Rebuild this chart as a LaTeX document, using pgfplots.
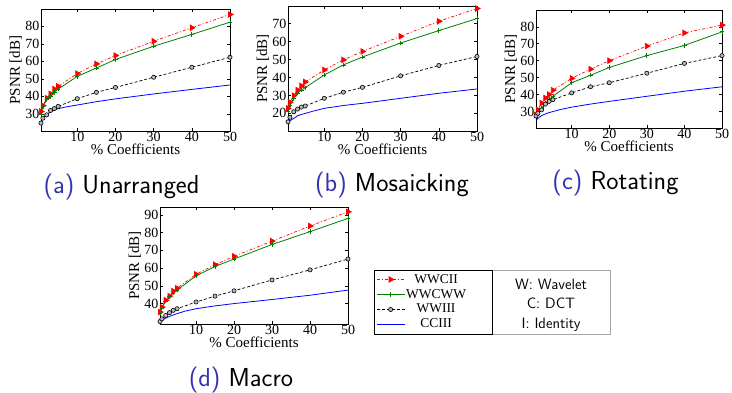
\documentclass[border=0pt]{standalone}
\usepackage{fontspec}
\setmainfont{Liberation Serif}
\usepackage{pgfplots}
\pgfplotsset{compat=1.18}
\definecolor{capblue}{RGB}{51,51,178}
\definecolor{mgreen}{RGB}{0,128,0}

\pgfplotsset{
  sub/.style={scale only axis, anchor=south west, xmin=0.5, xmax=50,
    xtick={10,20,30,40,50},
    tick align=inside, major tick length=3pt,
    tick style={black, line width=0.5pt},
    axis line style={line width=0.8pt},
    /pgf/number format/assume math mode=true,
    tick label style={font=\rmfamily\fontsize{14}{14}\selectfont},
    xticklabel style={anchor=base, yshift=-10.5pt, inner sep=0pt},
    yticklabel style={anchor=east, inner sep=0pt, xshift=-1.5pt},
    label style={font=\rmfamily\fontsize{15}{15}\selectfont},
    xlabel={\% Coefficients},
    xlabel style={at={(axis description cs:0.5,0)}, anchor=base, yshift=-24pt, inner sep=0pt},
    ylabel={PSNR [dB]},
    ylabel style={at={([xshift=-21pt]axis description cs:0,0.5)}, anchor=base, inner sep=0pt},
  },
  sred/.style={red, line width=0.7pt, dash pattern=on 3pt off 2pt on 1pt off 2pt,
    mark=triangle*, mark size=3.2pt, mark options={solid, rotate=-90, fill=red}},
  sgreen/.style={mgreen, line width=0.8pt, mark=+, mark size=2.2pt, mark options={solid}},
  sblack/.style={black, line width=0.7pt, dash pattern=on 3pt off 2pt,
    mark=*, mark size=2.1pt, mark options={solid, fill=gray!55, draw=black, line width=0.6pt}},
  sblue/.style={blue, line width=0.8pt, no marks},
}

\begin{document}
\begin{tikzpicture}
\useasboundingbox (0,0) rectangle (732pt,393pt);

% (a) Unarranged
\begin{axis}[sub, at={(41pt,262pt)}, width=189pt, height=122pt,
  ymin=20.3, ymax=89.8, ytick={30,40,50,60,70,80}]
\addplot[sred] coordinates {(0.5,31.4) (1,34.7) (2,39) (3,41.5) (4,44.2) (5,45.7) (10,53) (15,58.5) (20,63.3) (30,71.4) (40,79.1) (50,86.7)};
\addplot[sgreen] coordinates {(0.5,29.5) (1,34.3) (2,38.1) (3,40) (4,42.2) (5,44.2) (10,51.4) (15,56.2) (20,61) (30,68.6) (40,75.3) (50,82.3)};
\addplot[sblack] coordinates {(0.5,24.8) (1,27.6) (2,29.5) (3,32) (4,33.1) (5,34.3) (10,38.7) (15,42.3) (20,45.1) (30,50.9) (40,56.6) (50,62.3)};
\addplot[sblue] coordinates {(0.5,26) (1,28) (2,29.8) (3,31.2) (4,32.2) (5,33) (7,34) (10,35.1) (15,37) (20,38.6) (30,41.4) (40,44) (50,46.5)};
\end{axis}

% (b) Mosaicking
\begin{axis}[sub, at={(288pt,262pt)}, width=189pt, height=125pt,
  ymin=10.2, ymax=79.8, ytick={20,30,40,50,60,70}]
\addplot[sred] coordinates {(0.5,22.8) (1,26.2) (2,29.9) (3,33) (4,35.3) (5,37.5) (10,44.2) (15,49.8) (20,54.5) (30,62.9) (40,71.3) (50,78.4)};
\addplot[sgreen] coordinates {(0.5,21.3) (1,24.6) (2,28.4) (3,31.2) (4,33) (5,34.3) (10,41.4) (15,47) (20,51.4) (30,59.2) (40,66.1) (50,72.8)};
\addplot[sblack] coordinates {(0.5,15.3) (1,17.8) (2,20.9) (3,22.4) (4,23.5) (5,24.1) (10,28.4) (15,31.8) (20,34.5) (30,40.9) (40,46.7) (50,51.7)};
\addplot[sblue] coordinates {(0.5,14.4) (1,15.9) (2,17.2) (3,18.7) (4,19.4) (5,20) (7,21.2) (10,22.8) (15,24.4) (20,25.6) (30,28.4) (40,31.2) (50,33.6)};
\end{axis}

% (c) Rotating
\begin{axis}[sub, at={(536pt,265pt)}, width=186pt, height=118pt,
  ymin=20.3, ymax=89.9, ytick={30,40,50,60,70,80}]
\addplot[sred] coordinates {(0.5,28) (1,31) (2,35) (3,38) (4,40) (5,42.6) (10,49.6) (15,55) (20,60) (30,68.6) (40,76.4) (50,81)};
\addplot[sgreen] coordinates {(0.5,27.5) (1,29.5) (2,32) (3,35) (4,37) (5,39) (10,47) (15,51.4) (20,56) (30,63) (40,69) (50,77)};
\addplot[sblack] coordinates {(0.5,27.4) (1,29) (2,31) (3,34.4) (4,36) (5,37) (10,41) (15,44.6) (20,47) (30,52.6) (40,58.4) (50,63)};
\addplot[sblue] coordinates {(0.5,24.6) (1,26) (2,27.6) (3,28.6) (4,29.4) (5,30) (7,31.2) (10,32.6) (15,34.4) (20,36) (30,39) (40,42) (50,44.6)};
\end{axis}

% (d) Macro
\begin{axis}[sub, at={(160pt,69pt)}, width=188pt, height=117pt,
  ymin=28.5, ymax=94.4, ytick={40,50,60,70,80,90},
  legend style={at={(1.149,0.188)}, anchor=west, draw=none, fill=none,
    font=\rmfamily\fontsize{13.5}{13.5}\selectfont, row sep=0pt, inner sep=0pt,
    nodes={inner sep=1pt, text height=10pt, text depth=3pt}},
  legend cell align=center,
  legend image code/.code={\draw[mark repeat=2,mark phase=2,#1] plot coordinates {(0pt,0pt) (14pt,0pt) (28pt,0pt)};}]
\addplot[sred] coordinates {(0.5,35.2) (1,38) (2,41.9) (3,44.2) (4,47) (5,48.6) (10,56.5) (15,61.9) (20,66.6) (30,75.2) (40,83.7) (50,91.7)};
\addplot[sgreen] coordinates {(0.5,34.6) (1,37.5) (2,41.3) (3,43.8) (4,46) (5,47.6) (10,55.6) (15,60.9) (20,65.1) (30,73.3) (40,80.5) (50,88)};
\addplot[sblack] coordinates {(0.5,29.9) (1,31.4) (2,33.3) (3,34.9) (4,36.2) (5,37.1) (10,40.9) (15,44.2) (20,47.2) (30,53.3) (40,59) (50,65.1)};
\addplot[sblue] coordinates {(0.5,28.9) (1,30.5) (2,31.8) (3,32.8) (4,33.6) (5,34.3) (7,35.7) (10,37.1) (15,38.7) (20,40) (30,42.3) (40,44.7) (50,47.6)};
\legend{WWCII, WWCWW, WWIII, CCIII}
\end{axis}

% legend boxes
\draw[gray!70, line width=0.8pt] (492pt,59pt) rectangle (610pt,123pt);
\draw[black, line width=0.8pt] (374pt,59pt) rectangle (492pt,123pt);
\node[font=\sffamily\fontsize{15}{19.5}\selectfont, align=center] at (551pt,88pt) {W: Wavelet\\C: DCT\\I: Identity};

% captions
\node[anchor=base, font=\sffamily\fontsize{26}{26}\selectfont] at (121.5pt,199pt) {\textcolor{capblue}{(a)} Unarranged};
\node[anchor=base, font=\sffamily\fontsize{26}{26}\selectfont] at (392pt,201pt) {\textcolor{capblue}{(b)} Mosaicking};
\node[anchor=base, font=\sffamily\fontsize{26}{26}\selectfont] at (615.5pt,203pt) {\textcolor{capblue}{(c)} Rotating};
\node[anchor=base, font=\sffamily\fontsize{26}{26}\selectfont] at (241pt,6pt) {\textcolor{capblue}{(d)} Macro};
\end{tikzpicture}
\end{document}
